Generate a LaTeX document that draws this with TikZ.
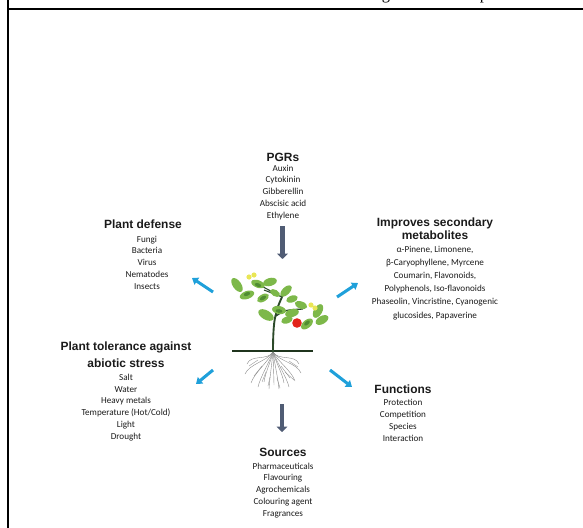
\documentclass[tikz,border=0pt]{standalone}
\usepackage{fontspec}
\setmainfont{Carlito}
\newfontfamily\headfont{Liberation Sans}
\newfontfamily\capfont{Liberation Serif}
\usetikzlibrary{arrows.meta,positioning}
\definecolor{figink}{HTML}{1A1A1A}
\definecolor{flowblue}{HTML}{1FA0DA}
\definecolor{flowslate}{HTML}{505C74}
\definecolor{leafgreen}{HTML}{7DB84A}
\definecolor{leafdark}{HTML}{4F8C32}
\definecolor{stemgreen}{HTML}{2C4A2A}
\definecolor{rootgray}{HTML}{8C8C8C}
\definecolor{tomatored}{HTML}{E2231A}
\definecolor{budyellow}{HTML}{E9E655}

\begin{document}
\begin{tikzpicture}[x=.03cm,y=-.03cm,
    blockhead/.style={font=\headfont\bfseries\fontsize{10.2}{#1}\selectfont,
      align=center,anchor=base,inner sep=0pt,text=figink},
    blockhead/.default=12,
    itemlist/.style={font=\fontsize{7.8}{#1}\selectfont,
      align=center,anchor=base,inner sep=0pt,text=figink},
    itemlist/.default=10,
    sidearrow/.style={flowblue,line width=2.6pt,-{Triangle[length=5pt,width=7pt]}},
    mainarrow/.style={flowslate,line width=4pt,-{Triangle[length=4.5pt,width=9pt]}},
    leafshape/.style={fill=leafgreen}]
  \useasboundingbox (0,0) rectangle (583,528);

  % frame of the table cell
  \draw[black,line width=1.7pt] (8.3,0) -- (8.3,528) (8.3,9) -- (583,9);
  \node[font=\capfont\fontsize{14}{14}\selectfont,anchor=base,inner sep=0pt] (capG) at (386,-1) {g};
  \node[font=\capfont\fontsize{14}{14}\selectfont,anchor=base,inner sep=0pt] (capP) at (484,-1) {p};

  % text blocks around the plant (base = baseline of the last line)
  \node[blockhead] (pgrsHead) at (283,161) {PGRs};
  \node[itemlist] (pgrsList) at (283,218) {Auxin\\Cytokinin\\Gibberellin\\Abscisic acid\\Ethylene};

  \node[blockhead] (defenseHead) at (143,228) {Plant defense};
  \node[itemlist] (defenseList) at (147,289) {Fungi\\Bacteria\\Virus\\Nematodes\\Insects};

  \node[blockhead=11.4] (metabHead) at (435,239.4) {Improves secondary\\metabolites};
  \node[itemlist=11.1] (metabList) at (435,318) {α-Pinene, Limonene,\\β-Caryophyllene, Myrcene\\Coumarin, Flavonoids,\\Polyphenols, Iso-flavonoids\\Phaseolin, Vincristine, Cyanogenic\\glucosides, Papaverine};

  \node[blockhead=14.2] (stressHead) at (126,367.6) {Plant tolerance against\\abiotic stress};
  \node[itemlist=10.2] (stressList) at (126,439.8) {Salt\\Water\\Heavy metals\\Temperature (Hot/Cold)\\Light\\Drought};

  \node[blockhead] (functionsHead) at (403,393) {Functions};
  \node[itemlist=10.2] (functionsList) at (403,441) {Protection\\Competition\\Species\\Interaction};

  \node[blockhead] (sourcesHead) at (283,456) {Sources};
  \node[itemlist] (sourcesList) at (283,516) {Pharmaceuticals\\Flavouring\\Agrochemicals\\Colouring agent\\Fragrances};

  % arrow ends
  \coordinate (pgrsOut) at (282.5,226);
  \coordinate (plantTop) at (282.5,259);
  \coordinate (plantBottom) at (282,404);
  \coordinate (sourcesIn) at (282,432);
  \coordinate (defenseOut) at (213,292);
  \coordinate (defenseIn) at (192,278);
  \coordinate (metabOut) at (337,297);
  \coordinate (metabIn) at (358,283);
  \coordinate (stressOut) at (213,370);
  \coordinate (stressIn) at (196,384);
  \coordinate (functionsOut) at (330,370);
  \coordinate (functionsIn) at (352,387);

  \draw[mainarrow] (pgrsOut) -- (plantTop);
  \draw[mainarrow] (plantBottom) -- (sourcesIn);
  \draw[sidearrow] (defenseOut) -- (defenseIn);
  \draw[sidearrow] (metabOut) -- (metabIn);
  \draw[sidearrow] (stressOut) -- (stressIn);
  \draw[sidearrow] (functionsOut) -- (functionsIn);

  % the plant
  \coordinate (plantBase) at (273,352);
  \foreach \dx/\dy in {-28/22,-22/31,-15/35,-9/30,-4/37,1/33,6/37,11/31,16/35,22/29,28/21,-26/12,26/12}
    \draw[rootgray,line width=.35pt] (plantBase) .. controls +(\dx*.2,9) and +(-\dx*.15,-10) .. +(\dx,\dy);
  \foreach \sx/\sy/\ex/\ey in {262/366/254/376,266/372/262/382,281/366/290/378,285/372/294/380,
      258/360/249/366,289/361/298/367,270/377/268/386,277/378/280/388}
    \draw[rootgray,line width=.3pt] (\sx,\sy) -- (\ex,\ey);
  \draw[stemgreen!70!black,line width=.9pt] (232,351) -- (313,351);

  \draw[stemgreen,line width=1.6pt] (plantBase) .. controls (273,332) and (274,320) .. (276,314)
    .. controls (278,306) .. (282,297);
  \draw[stemgreen,line width=1.1pt] (276,316) .. controls (285,310) .. (303,309);
  \draw[stemgreen,line width=.9pt] (282,297) -- (264,290) (282,297) -- (252,281) (282,297) -- (291,287);

  \foreach \x/\y/\r/\la/\lb in {237/285/-55/8/4.2,247/295/20/7.5/4,258/284/-20/7/3.8,270/282/15/7/4,
      263/298/30/6.5/3.6,286/291/45/7/3.8,292/299/20/6/3.4,275/293/-30/5.5/3.2,
      266/315/-30/8.5/4.6,279/310/-10/7/4,292/313/15/7/4,301/305/-20/6.5/3.6,
      318/311/60/7.5/4.2,322/320/30/7/4,307/324/40/7/4,287/320/20/6/3.4}
    \fill[leafshape,rotate around={\r:(\x,\y)}] (\x,\y) ellipse [x radius=\la, y radius=\lb];
  \foreach \x/\y/\r in {247/294/20,279/311/-10,307/323/40,263/298/30,258/285/-20}
    \fill[leafdark,rotate around={\r:(\x,\y)}] (\x,\y) ellipse [x radius=3.4, y radius=1.8];

  \foreach \x/\y in {249/277,254/275,311/305,315/308}
    \fill[budyellow] (\x,\y) circle (2.6);
  \fill[tomatored] (297,323) circle (4.8);
\end{tikzpicture}
\end{document}
